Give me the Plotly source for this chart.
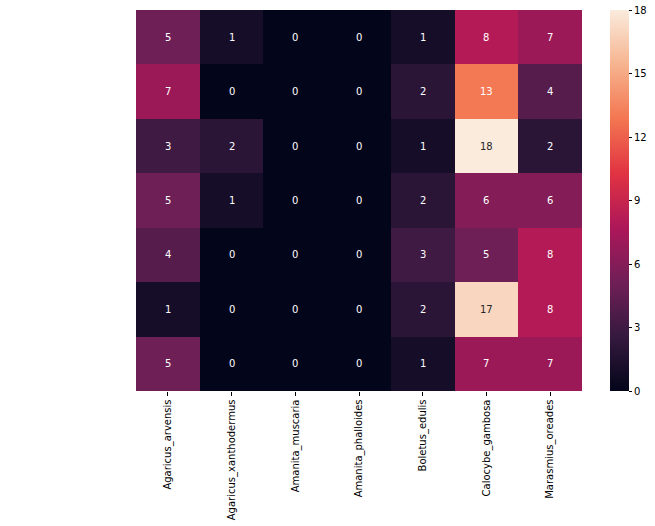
import plotly.graph_objects as go

species = ["Agaricus_arvensis", "Agaricus_xanthodermus", "Amanita_muscaria",
           "Amanita_phalloides", "Boletus_edulis", "Calocybe_gambosa", "Marasmius_oreades"]
rows = [0, 1, 2, 3, 4, 5, 6]
counts = [
    [5, 1, 0, 0, 1, 8, 7],
    [7, 0, 0, 0, 2, 13, 4],
    [3, 2, 0, 0, 1, 18, 2],
    [5, 1, 0, 0, 2, 6, 6],
    [4, 0, 0, 0, 3, 5, 8],
    [1, 0, 0, 0, 2, 17, 8],
    [5, 0, 0, 0, 1, 7, 7],
]
cbar_ticks = [0, 3, 6, 9, 12, 15, 18]

rocket = [
    [0.0, "#03051a"],
    [1/7, "#35193e"],
    [2/7, "#701f57"],
    [3/7, "#ad1759"],
    [4/7, "#e13342"],
    [5/7, "#f37651"],
    [6/7, "#f6b48f"],
    [1.0, "#faebdd"],
]

zmin, zmax = 0, 18
FONT = "DejaVu Sans"

fig = go.Figure(go.Heatmap(
    z=counts, x=species, y=rows,
    zmin=zmin, zmax=zmax, colorscale=rocket,
    hoverinfo="skip",
    colorbar=dict(
        thickness=19, thicknessmode="pixels", len=1.0, lenmode="fraction",
        x=(610 - 136) / 446, xanchor="left", xpad=0,
        y=0.5, yanchor="middle", ypad=0,
        outlinewidth=0, ticks="outside", ticklen=3.5, tickwidth=1, tickcolor="#000",
        tickvals=cbar_ticks, ticktext=[str(t) for t in cbar_ticks],
        tickfont=dict(family=FONT, size=10, color="#000"),
    ),
))

annotations = []
for i, r in enumerate(rows):
    for j, sp in enumerate(species):
        v = counts[i][j]
        frac = (v - zmin) / (zmax - zmin)
        color = "#262626" if frac > 0.88 else "#ffffff"
        annotations.append(dict(
            x=sp, y=r, text=str(v), showarrow=False,
            font=dict(family=FONT, size=10, color=color),
        ))

fig.update_layout(
    width=655, height=526,
    margin=dict(l=136, r=73, t=10, b=135, autoexpand=False),
    paper_bgcolor="white", plot_bgcolor="white",
    annotations=annotations,
    font=dict(family=FONT, size=10, color="#000"),
)
fig.update_xaxes(
    type="category", tickangle=-90, ticks="outside", ticklen=3.5, tickwidth=1,
    tickcolor="#000", showgrid=False, zeroline=False, showline=False,
    automargin=False,
    tickfont=dict(family=FONT, size=10, color="#000"),
)
fig.update_yaxes(
    autorange="reversed", showticklabels=False, ticks="", showgrid=False,
    zeroline=False, showline=False, automargin=False,
)

fig.write_html("out.html")
